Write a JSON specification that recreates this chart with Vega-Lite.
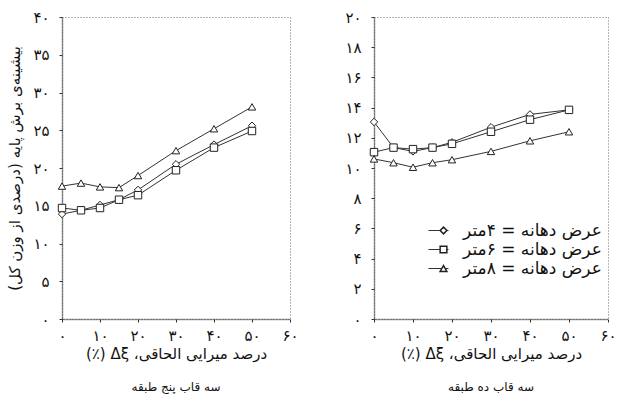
{
  "$schema": "https://vega.github.io/schema/vega-lite/v6.json",
  "padding": {"left": 7, "top": 9, "right": 0, "bottom": 5},
  "background": "white",
  "datasets": {
    "five": [
      {"series": "4", "x": 0, "y": 13.9}, {"series": "4", "x": 5, "y": 14.4}, {"series": "4", "x": 10, "y": 15.1}, {"series": "4", "x": 15, "y": 15.8},
      {"series": "4", "x": 20, "y": 17.1}, {"series": "4", "x": 30, "y": 20.5}, {"series": "4", "x": 40, "y": 23.1}, {"series": "4", "x": 50, "y": 25.6},
      {"series": "6", "x": 0, "y": 14.7}, {"series": "6", "x": 5, "y": 14.4}, {"series": "6", "x": 10, "y": 14.7}, {"series": "6", "x": 15, "y": 15.8},
      {"series": "6", "x": 20, "y": 16.4}, {"series": "6", "x": 30, "y": 19.7}, {"series": "6", "x": 40, "y": 22.7}, {"series": "6", "x": 50, "y": 24.9},
      {"series": "8", "x": 0, "y": 17.6}, {"series": "8", "x": 5, "y": 18.0}, {"series": "8", "x": 10, "y": 17.5}, {"series": "8", "x": 15, "y": 17.4},
      {"series": "8", "x": 20, "y": 19.0}, {"series": "8", "x": 30, "y": 22.3}, {"series": "8", "x": 40, "y": 25.2}, {"series": "8", "x": 50, "y": 28.1}
    ],
    "ten": [
      {"series": "4", "x": 0, "y": 13.05}, {"series": "4", "x": 5, "y": 11.35}, {"series": "4", "x": 10, "y": 11.1}, {"series": "4", "x": 15, "y": 11.35},
      {"series": "4", "x": 20, "y": 11.7}, {"series": "4", "x": 30, "y": 12.7}, {"series": "4", "x": 40, "y": 13.55}, {"series": "4", "x": 50, "y": 13.85},
      {"series": "6", "x": 0, "y": 11.05}, {"series": "6", "x": 5, "y": 11.35}, {"series": "6", "x": 10, "y": 11.25}, {"series": "6", "x": 15, "y": 11.35},
      {"series": "6", "x": 20, "y": 11.6}, {"series": "6", "x": 30, "y": 12.4}, {"series": "6", "x": 40, "y": 13.2}, {"series": "6", "x": 50, "y": 13.85},
      {"series": "8", "x": 0, "y": 10.6}, {"series": "8", "x": 5, "y": 10.35}, {"series": "8", "x": 10, "y": 10.05}, {"series": "8", "x": 15, "y": 10.35},
      {"series": "8", "x": 20, "y": 10.55}, {"series": "8", "x": 30, "y": 11.1}, {"series": "8", "x": 40, "y": 11.8}, {"series": "8", "x": 50, "y": 12.4}
    ]
  },
  "spacing": 45,
  "resolve": {"scale": {"shape": "independent", "color": "independent"}, "legend": {"shape": "independent", "color": "independent"}},
  "hconcat": [
    {
      "width": 228,
      "height": 302,
      "data": {"name": "five"},
      "title": {"text": "سه قاب پنج طبقه", "orient": "bottom", "offset": 21},
      "layer": [
        {
          "mark": {"type": "line", "color": "#333", "strokeWidth": 1},
          "encoding": {
            "x": {"field": "x", "type": "quantitative", "scale": {"domain": [0, 60]},
              "axis": {"values": [0, 10, 20, 30, 40, 50, 60], "tickCount": 30, "format": "d", "title": "‫درصد میرایی الحاقی، Δξ (٪)‬"}},
            "y": {"field": "y", "type": "quantitative", "scale": {"domain": [0, 40]},
              "axis": {"values": [0, 5, 10, 15, 20, 25, 30, 35, 40], "tickCount": 30, "format": "d", "title": "‫بیشینه‌ی برش پایه (درصدی از وزن کل)‬"}},
            "detail": {"field": "series"}
          }
        },
        {
          "mark": {"type": "point", "filled": false, "fill": "white", "stroke": "#222", "strokeWidth": 1, "opacity": 1, "size": 55},
          "encoding": {
            "x": {"field": "x", "type": "quantitative"},
            "y": {"field": "y", "type": "quantitative"},
            "shape": {"field": "series", "type": "nominal",
              "scale": {"domain": ["4", "6", "8"], "range": ["diamond", "square", "triangle-up"]}, "legend": null}
          }
        }
      ]
    },
    {
      "width": 234,
      "height": 302,
      "data": {"name": "ten"},
      "title": {"text": "سه قاب ده طبقه", "orient": "bottom", "offset": 21},
      "layer": [
        {
          "mark": {"type": "line", "strokeWidth": 1},
          "encoding": {
            "x": {"field": "x", "type": "quantitative", "scale": {"domain": [0, 60]},
              "axis": {"values": [0, 10, 20, 30, 40, 50, 60], "tickCount": 30, "format": "d", "title": "‫درصد میرایی الحاقی، Δξ (٪)‬"}},
            "y": {"field": "y", "type": "quantitative", "scale": {"domain": [0, 20]},
              "axis": {"values": [0, 2, 4, 6, 8, 10, 12, 14, 16, 18, 20], "tickCount": 30, "format": "d", "title": null}},
            "color": {"field": "series", "type": "nominal",
              "scale": {"range": ["#333", "#333", "#333"]},
              "legend": {
                "title": null,
                "orient": "none",
                "legendX": 54,
                "legendY": 204,
                "padding": 0,
                "symbolType": "stroke",
                "symbolSize": 400,
                "symbolStrokeWidth": 1,
                "clipHeight": 19,
                "rowPadding": 0,
                "labelFontSize": 16,
                "labelExpr": "''"
              }
            }
          }
        },
        {
          "mark": {"type": "point", "filled": false, "fill": "white", "stroke": "#222", "strokeWidth": 1, "opacity": 1, "size": 55},
          "encoding": {
            "x": {"field": "x", "type": "quantitative"},
            "y": {"field": "y", "type": "quantitative"},
            "shape": {"field": "series", "type": "nominal",
              "scale": {"domain": ["4", "6", "8"], "range": ["diamond", "square", "triangle-up"]},
              "legend": {
                "title": null,
                "orient": "none",
                "legendX": 61,
                "legendY": 204,
                "padding": 0,
                "symbolSize": 45,
                "clipHeight": 19,
                "rowPadding": 0,
                "labelFontSize": 17,
                "labelLimit": 400,
                "labelColor": "#111",
                "labelOffset": 11,
                "labelExpr": "'عرض   دهانه   =   ' + (datum.label == '4' ? '۴' : datum.label == '6' ? '۶' : '۸') + 'متر'"
              }
            }
          }
        }
      ]
    }
  ],
  "config": {
    "font": "DejaVu Sans",
    "view": {"stroke": "#666", "strokeDash": [1, 2], "strokeWidth": 1},
    "title": {"fontSize": 12, "fontWeight": "normal", "color": "#111", "font": "DejaVu Sans"},
    "axis": {
      "grid": false,
      "domainColor": "#333",
      "domainWidth": 1.5,
      "domainDash": [1, 1],
      "tickColor": "#333",
      "tickSize": 3,
      "labelFontSize": 15,
      "labelColor": "#111",
      "labelFont": "DejaVu Sans",
      "labelOverlap": false,
      "labelBound": false,
      "titleFont": "DejaVu Sans",
      "titleFontSize": 15,
      "titleFontWeight": "normal",
      "titleColor": "#111",
      "labelExpr": "replace(replace(replace(replace(replace(replace(replace(replace(replace(replace(datum.label,/0/g,'۰'),/1/g,'۱'),/2/g,'۲'),/3/g,'۳'),/4/g,'۴'),/5/g,'۵'),/6/g,'۶'),/7/g,'۷'),/8/g,'۸'),/9/g,'۹')"
    },
    "axisX": {"labelPadding": 6, "titlePadding": 3, "labelFlush": false},
    "axisY": {"labelPadding": 10, "titlePadding": 10}
  }
}
